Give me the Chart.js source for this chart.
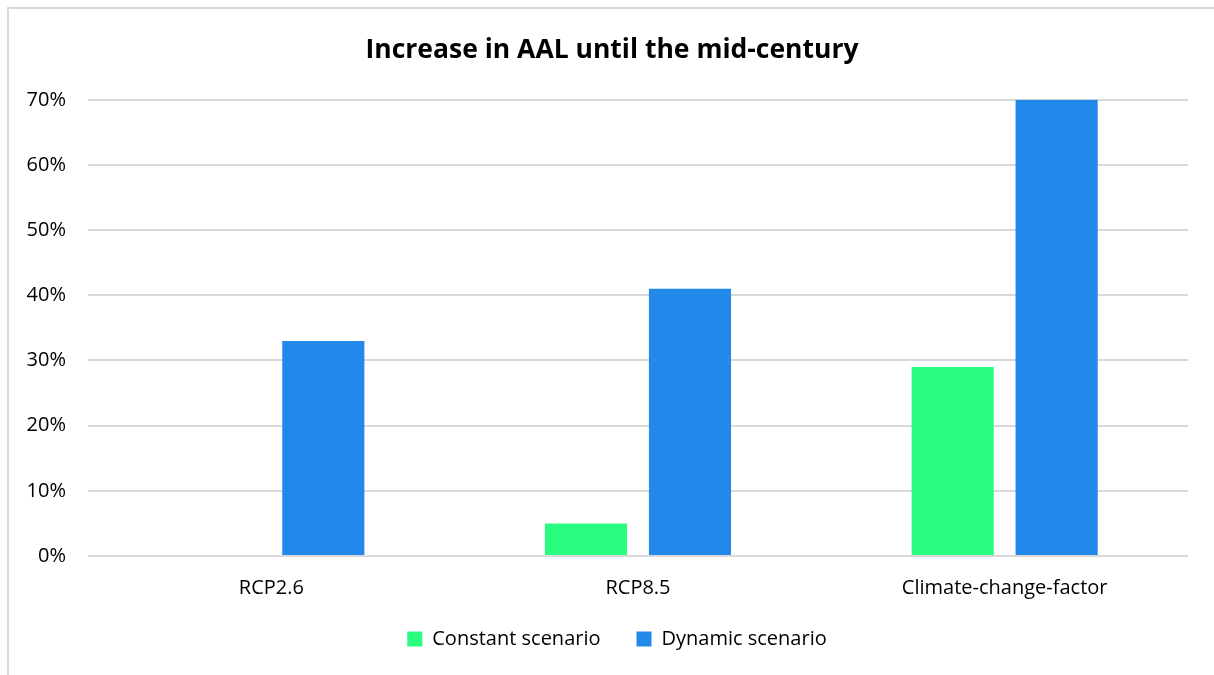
<!DOCTYPE html>
<html>
<head>
<meta charset="utf-8">
<script src="https://cdn.jsdelivr.net/npm/chart.js@4"></script>
<style>
  html, body { margin:0; padding:0; background:#fff; overflow:hidden; }
  #wrap { position:relative; width:1214px; height:675px; }
  #frame { position:absolute; left:7px; top:7px; width:1220px; height:680px; border-left:2px solid #d9d9d9; border-top:2px solid #d9d9d9; }
  canvas { position:absolute; left:0; top:0; }
</style>
</head>
<body>
<div id="wrap"><div id="frame"></div><canvas id="c" width="1214" height="675"></canvas></div>
<script>
const categories = ['RCP2.6', 'RCP8.5', 'Climate-change-factor'];
const constantScenario = [0, 5, 29];
const dynamicScenario = [33, 41, 70];
const yTicks = [0, 10, 20, 30, 40, 50, 60, 70];

const font = "'Open Sans', 'Noto Sans', sans-serif";

// centre title and legend on the whole frame; widen the gap between legend items
const frameCentre = {
  id: 'frameCentre',
  afterLayout: chart => {
    const t = chart.titleBlock;
    if (t) { t.left = 36; t.right = 1188; t.width = t.right - t.left; }
    const l = chart.legend;
    if (l) {
      const extra = 36 - l.options.labels.padding;
      l.options.labels.padding = 36;
      l.top -= extra; l.height = l.bottom - l.top;
      l.left = 8; l.width = l.right - l.left;
    }
  }
};

new Chart(document.getElementById('c'), {
  type: 'bar',
  data: {
    labels: categories,
    datasets: [
      { label: 'Constant scenario', data: constantScenario, backgroundColor: '#2afc80' },
      { label: 'Dynamic scenario', data: dynamicScenario, backgroundColor: '#2289ea' }
    ]
  },
  plugins: [frameCentre],
  options: {
    responsive: false,
    animation: false,
    categoryPercentage: 0.567,
    barPercentage: 0.79,
    layout: { padding: { left: 0, right: 26, top: 35, bottom: 16 } },
    plugins: {
      title: {
        display: true,
        text: 'Increase in AAL until the mid-century',
        color: '#000',
        font: { family: font, size: 26.5, weight: 'bold' },
        padding: { top: 0, bottom: 33 }
      },
      legend: {
        position: 'bottom',
        labels: {
          color: '#000',
          font: { family: font, size: 20 },
          boxWidth: 15, boxHeight: 15,
          padding: 17
        }
      },
      tooltip: { enabled: false }
    },
    scales: {
      x: {
        grid: { display: false },
        border: { display: false },
        ticks: { color: '#000', font: { family: font, size: 20 }, padding: 12 }
      },
      y: {
        min: 0, max: 70,
        afterBuildTicks: s => { s.ticks = yTicks.map(v => ({ value: v })); },
        afterFit: s => { s.width = 88; },
        grid: { color: '#d9d9d9', lineWidth: 2, drawTicks: false },
        border: { display: false },
        ticks: { color: '#000', font: { family: font, size: 20 }, padding: 22, callback: v => v + '%' }
      }
    }
  }
});
</script>
</body>
</html>
